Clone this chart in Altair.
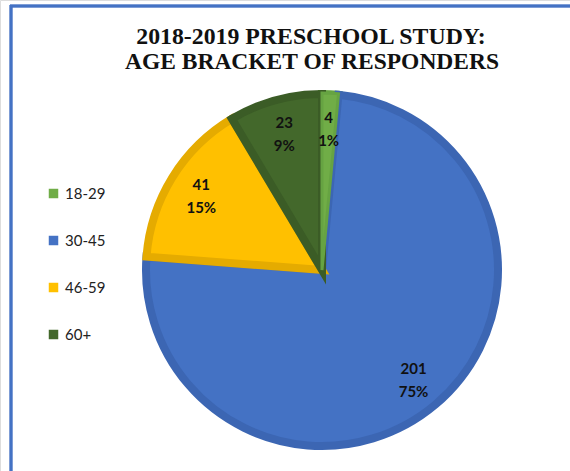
import altair as alt
import pandas as pd

categories = ["18-29", "30-45", "46-59", "60+"]
counts = [4, 201, 41, 23]
percents = ["1%", "75%", "15%", "9%"]
fill_colors = ["#70AD47", "#4472C4", "#FFC000", "#43682B"]
stroke_colors = ["#66A342", "#3C66B3", "#E5AB00", "#3B5C26"]
title_lines = ["2018-2019 PRESCHOOL STUDY:", "AGE BRACKET OF RESPONDERS"]

df = pd.DataFrame({
    "cat": categories,
    "count": counts,
    "pct": percents,
    "idx": list(range(len(categories))),
})

CX, CY = 322, 270

base = alt.Chart(df).encode(
    theta=alt.Theta("count:Q", stack=True),
    order=alt.Order("idx:Q"),
)

fill_enc = alt.Fill(
    "cat:N",
    scale=alt.Scale(domain=categories, range=fill_colors),
    legend=alt.Legend(
        title=None,
        orient="none",
        legendX=46,
        legendY=186,
        symbolType="square",
        symbolSize=90,
        symbolStrokeWidth=0,
        labelFont="Lato",
        labelFontSize=15,
        labelColor="#222222",
        labelOffset=4,
        rowPadding=31,
        padding=0,
    ),
)
stroke_enc = alt.Stroke(
    "cat:N",
    scale=alt.Scale(domain=categories, range=stroke_colors),
    legend=None,
)

pie = base.mark_arc(outerRadius=176, strokeWidth=8, strokeJoin="miter").encode(
    x=alt.value(CX), y=alt.value(CY), fill=fill_enc, stroke=stroke_enc,
)
# the thin first slice is drawn again on top so its neighbour's border does not hide it
pie_top = base.mark_arc(outerRadius=177, strokeWidth=3, strokeJoin="miter").encode(
    x=alt.value(CX), y=alt.value(CY), fill=fill_enc, stroke=stroke_enc,
    fillOpacity=alt.condition(alt.datum.idx == 0, alt.value(1), alt.value(0)),
    strokeOpacity=alt.condition(alt.datum.idx == 0, alt.value(1), alt.value(0)),
)

lbl_font = dict(font="Lato", fontWeight="bold", fontSize=15, color="#111111", radius=142)
count_text = base.mark_text(dy=-10, **lbl_font).encode(
    x=alt.value(CX), y=alt.value(CY), text="count:Q"
)
pct_text = base.mark_text(dy=13, **lbl_font).encode(
    x=alt.value(CX), y=alt.value(CY), text="pct:N"
)

title_df1 = pd.DataFrame({"t": [title_lines[0]]})
title_df2 = pd.DataFrame({"t": [title_lines[1]]})
tstyle = dict(font="Liberation Serif", fontWeight="bold", color="#111111",
              baseline="alphabetic", align="center")
title1 = alt.Chart(title_df1).mark_text(fontSize=23.8, **tstyle).encode(
    x=alt.value(311), y=alt.value(44), text="t:N"
)
title2 = alt.Chart(title_df2).mark_text(fontSize=23.5, **tstyle).encode(
    x=alt.value(312), y=alt.value(69), text="t:N"
)

border_top = alt.Chart(df).mark_rule(color="#4472C4", strokeWidth=2.5).encode(
    x=alt.value(10), x2=alt.value(570), y=alt.value(6)
)
border_left = alt.Chart(df).mark_rule(color="#4472C4", strokeWidth=2.5).encode(
    x=alt.value(11), y=alt.value(5), y2=alt.value(471)
)

chart = alt.layer(border_top, border_left, title1, title2, pie, pie_top, count_text, pct_text).properties(
    width=570, height=471, padding=0,
    autosize=alt.AutoSizeParams(type="none"),
).configure_view(stroke=None).configure(background="white")

chart.save("out.html", embed_options={"renderer": "svg", "actions": False})
